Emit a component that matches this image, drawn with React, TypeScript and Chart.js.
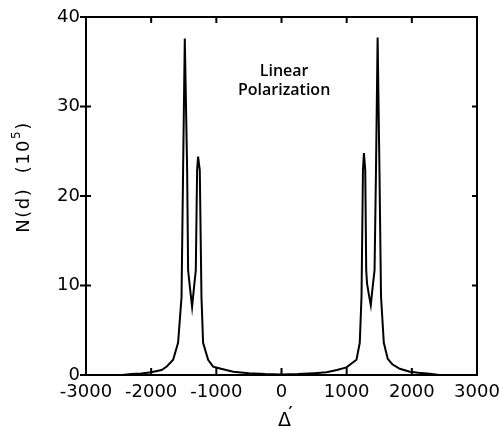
import React, { useEffect, useRef } from "react";
import { Chart, registerables } from "chart.js";

Chart.register(...registerables);

// Δ′ values (left half, then right half)
const xValues = [
  -2450, -2300, -2150, -2000, -1841, -1760, -1663, -1587, -1534, -1510,
  -1484, -1448, -1433, -1407, -1372, -1341, -1315, -1295, -1280, -1254,
  -1228, -1203, -1126, -1050, -973, -850, -740, -500, -250, 0,
  250, 500, 690, 850, 997, 1151, 1201, 1228, 1250, 1265, 1285, 1300,
  1313, 1340, 1370, 1400, 1428, 1450, 1475, 1503, 1527, 1570, 1630,
  1700, 1815, 1970, 2100, 2276, 2420,
];
// N(d) in units of 10^5
const nValues = [
  0, 0.1, 0.18, 0.3, 0.56, 0.95, 1.7, 3.6, 8.7, 22.9,
  37.6, 22.9, 11.7, 9.9, 7.6, 9.9, 11.7, 22.9, 24.4, 22.9,
  8.7, 3.6, 1.7, 0.93, 0.78, 0.55, 0.37, 0.2, 0.1, 0.05,
  0.1, 0.2, 0.3, 0.55, 0.85, 1.7, 3.6, 8.8, 22.9, 24.8, 22.9, 11.7,
  10.2, 9.0, 7.8, 9.9, 11.7, 22.9, 37.7, 22.9, 8.8, 3.6, 1.8,
  1.2, 0.7, 0.37, 0.25, 0.15, 0,
];

const xTickMin = -3000;
const xTickMax = 3000;
const xTickStep = 1000;
const yTickMin = 0;
const yTickMax = 40;
const yTickStep = 10;

const annotationLines = ["Linear", "Polarization"];
const annotationX = 40;
const annotationY = [33.9, 31.85];

const yTitleMain = "N(d)  (10";
const yTitleSup = "5";
const yTitleEnd = ")";
const xTitle = "Δ";
const xTitlePrime = "′";

const FONT = "'DejaVu Sans', sans-serif";

const framePlugin = {
  id: "frame",
  afterDraw(chart: any) {
    const { ctx, chartArea } = chart;
    const { left, right, top, bottom } = chartArea;
    const xs = chart.scales.x;
    const ys = chart.scales.y;
    ctx.save();
    ctx.strokeStyle = "#000";
    ctx.lineWidth = 2;
    ctx.strokeRect(left, top, right - left, bottom - top);
    ctx.beginPath();
    xs.ticks.forEach((t: any) => {
      const px = xs.getPixelForValue(t.value);
      ctx.moveTo(px, bottom);
      ctx.lineTo(px, bottom - 7);
      ctx.moveTo(px, top);
      ctx.lineTo(px, top + 6);
    });
    ys.ticks.forEach((t: any) => {
      const py = ys.getPixelForValue(t.value);
      ctx.moveTo(left - 6, py);
      ctx.lineTo(left + 5, py);
      ctx.moveTo(right - 5, py);
      ctx.lineTo(right, py);
    });
    ctx.stroke();

    // annotation
    ctx.fillStyle = "#000";
    ctx.font = `600 16px 'Open Sans', sans-serif`;
    ctx.textAlign = "center";
    ctx.textBaseline = "middle";
    annotationLines.forEach((s, i) => {
      ctx.fillText(s, xs.getPixelForValue(annotationX), ys.getPixelForValue(annotationY[i]));
    });

    // y title (rotated)
    ctx.save();
    ctx.translate(22, 177);
    ctx.rotate(-Math.PI / 2);
    (ctx as any).letterSpacing = "1.5px";
    ctx.font = `18px ${FONT}`;
    const wMain = ctx.measureText(yTitleMain).width;
    ctx.font = `12px ${FONT}`;
    const wSup = ctx.measureText(yTitleSup).width;
    ctx.font = `18px ${FONT}`;
    const wEnd = ctx.measureText(yTitleEnd).width;
    const total = wMain + wSup + wEnd;
    let cx = -total / 2;
    ctx.textAlign = "left";
    ctx.textBaseline = "alphabetic";
    ctx.fillText(yTitleMain, cx, 7);
    cx += wMain;
    ctx.font = `12px ${FONT}`;
    ctx.fillText(yTitleSup, cx, -2);
    cx += wSup;
    ctx.font = `18px ${FONT}`;
    ctx.fillText(yTitleEnd, cx, 7);
    ctx.restore();

    // x title
    const cxT = xs.getPixelForValue(0) + 3;
    ctx.font = `19px ${FONT}`;
    ctx.textAlign = "center";
    ctx.textBaseline = "alphabetic";
    ctx.fillText(xTitle, cxT, 426);
    ctx.font = `bold 16px ${FONT}`;
    ctx.fillText(xTitlePrime, cxT + 6, 418);
    ctx.restore();
  },
};

export default function App() {
  const ref = useRef<HTMLCanvasElement | null>(null);
  useEffect(() => {
    document.body.style.margin = "0";
    const canvas = ref.current;
    if (!canvas) return;
    const data = xValues.map((x, i) => ({ x, y: nValues[i] }));
    const chart = new Chart(canvas, {
      type: "line",
      data: {
        datasets: [
          {
            data,
            borderColor: "#000",
            borderWidth: 2,
            pointRadius: 0,
            tension: 0,
            fill: false,
          },
        ],
      },
      options: {
        animation: false,
        responsive: false,
        devicePixelRatio: 1,
        layout: { padding: { left: 8, right: 22, top: 17, bottom: 0 } },
        plugins: { legend: { display: false }, tooltip: { enabled: false } },
        scales: {
          x: {
            type: "linear",
            min: xTickMin,
            max: xTickMax,
            grid: { display: false, drawTicks: false },
            border: { display: false },
            afterFit: (s: any) => {
              s.height = 52;
              s.paddingLeft = 0;
              s.paddingRight = 0;
            },
            ticks: {
              stepSize: xTickStep,
              autoSkip: false,
              maxRotation: 0,
              padding: 7,
              color: "#000",
              font: { family: FONT, size: 18 },
              callback: (v: any) => String(v),
            },
          },
          y: {
            type: "linear",
            min: yTickMin,
            max: yTickMax,
            grid: { display: false, drawTicks: false },
            border: { display: false },
            afterFit: (s: any) => {
              s.width = 78;
              s.paddingTop = 0;
              s.paddingBottom = 0;
            },
            ticks: {
              stepSize: yTickStep,
              padding: 6,
              color: "#000",
              font: { family: FONT, size: 18 },
              callback: (v: any) => String(v),
            },
          },
        },
      },
      plugins: [framePlugin],
    });
    return () => chart.destroy();
  }, []);
  return (
    <div style={{ width: 499, height: 427, background: "#fff" }}>
      <canvas ref={ref} width={499} height={427} />
    </div>
  );
}
